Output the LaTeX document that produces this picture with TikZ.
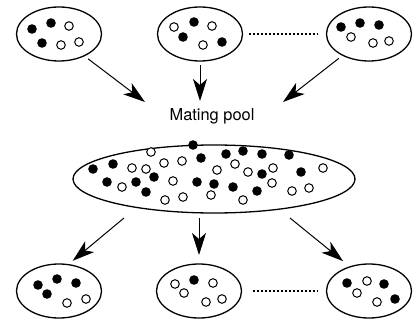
\documentclass[tikz,border=0pt]{standalone}
\usepackage{fontspec}
\setmainfont{TeX Gyre Heros}
\usetikzlibrary{arrows.meta,shapes.geometric}

\begin{document}
\begin{tikzpicture}[x=0.5pt,y=-0.5pt,>={Stealth[length=11pt,width=7pt,inset=3pt]},
  pop/.style={ellipse,draw,line width=0.65pt,inner sep=0pt,outer sep=0pt,minimum width=42.5pt,minimum height=27pt},
  arr/.style={->,line width=0.5pt},
  dotline/.style={line width=0.8pt,dash pattern=on 1pt off 1pt},
  odot/.style={draw=black,fill=white,line width=0.5pt}]
  \useasboundingbox (0,0) rectangle (416,320);
  % ---------------- parent populations
  \node[pop] (top1) at (59,34) {};
  \node[pop] (top2) at (200,34) {};
  \node[pop] (top3) at (369,34) {};
  \draw[dotline,shorten <=3pt,shorten >=4.5pt] (top2) -- (top3);
  \foreach \p in {(32,29),(51,23),(42,43),(194,22),(183,37),(222,42),(341,27),(360,23),(379,25)}
    \fill \p circle (2.4pt);
  \foreach \p in {(69,26),(61,45),(79,42),(174,27),(212,26),(203,45),(351,37),(373,43),(389,41)}
    \draw[odot] \p circle (2.15pt);
  % ---------------- mating pool
  \node[pop,minimum width=141pt,minimum height=34pt] (pool) at (214,179) {};
  \node[font=\fontsize{8.2}{10}\selectfont] (pooltext) at (212,116) {Mating pool};
  \foreach \p in {(193,145),(93,169),(113,164),(107,182),(136,182),(154,177),(146,192),(201,158),(197,182),
                  (214,184),(226,154),(243,151),(262,154),(289,155),(262,174),(233,187),(257,191),(301,172)}
    \fill \p circle (2.4pt);
  \foreach \p in {(151,152),(132,168),(146,169),(164,163),(182,161),(122,187),(173,181),(165,200),(183,197),(217,170),
                  (235,164),(248,172),(273,168),(272,183),(211,195),(243,200),(292,191),(309,188),(323,168)}
    \draw[odot] \p circle (2.15pt);
  \coordinate (in1) at (145,102);
  \coordinate (in2) at (200,101);
  \coordinate (in3) at (283,102);
  \draw[arr,shorten <=2.5pt] (top1.-41) -- (in1);
  \draw[arr,shorten <=2pt] (top2.south) -- (in2);
  \draw[arr,shorten <=2.5pt] (top3.219) -- (in3);
  % ---------------- offspring populations
  \node[pop] (bot1) at (59,291) {};
  \node[pop] (bot2) at (199,291) {};
  \node[pop] (bot3) at (369,291) {};
  \draw[dotline,shorten <=5.5pt,shorten >=4.5pt] (bot2) -- (bot3);
  \foreach \p in {(38,285),(57,279),(76,283),(47,294),(194,280),(347,283),(384,284),(395,299)}
    \fill \p circle (2.4pt);
  \foreach \p in {(67,303),(86,299),(175,284),(213,283),(184,293),(206,302),(222,299),(367,281),(357,293),(377,302)}
    \draw[odot] \p circle (2.15pt);
  \coordinate (out1) at (124,218);
  \coordinate (out2) at (199,218);
  \coordinate (out3) at (290,218);
  \draw[arr,shorten >=3pt] (out1) -- (bot1.71);
  \draw[arr,shorten >=4.5pt] (out2) -- (bot2.north);
  \draw[arr,shorten >=4.5pt] (out3) -- (bot3.128);
\end{tikzpicture}
\end{document}
